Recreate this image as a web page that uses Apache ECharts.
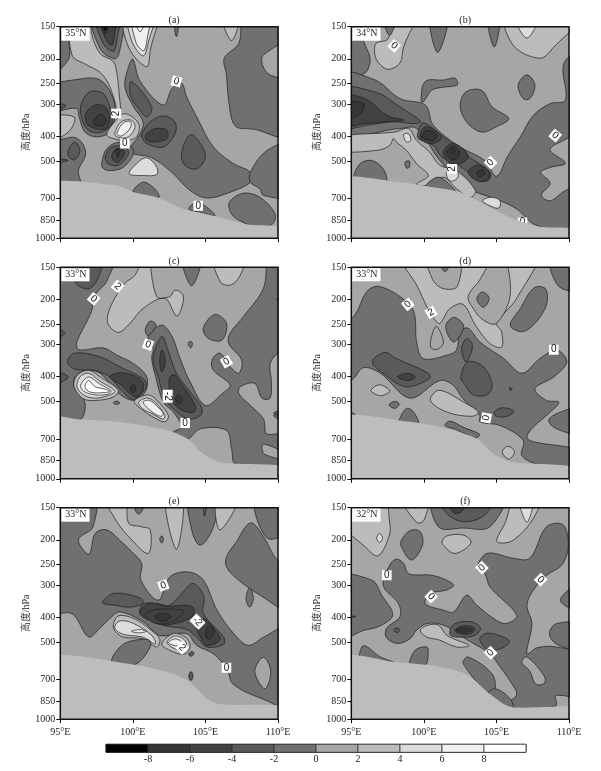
<!DOCTYPE html>
<html><head><meta charset="utf-8"><style>html,body{margin:0;padding:0;background:#fff}#c{width:601px;height:771px}</style>
<script src="https://cdn.jsdelivr.net/npm/echarts@6/dist/echarts.min.js"></script></head><body><div id="c"></div>
<script>
const bandColors={'-10':'#000000','-8':'#363636','-6':'#424242','-4':'#5a5a5a','-2':'#707070','0':'#a6a6a6','2':'#bcbcbc','4':'#dcdcdc','6':'#f0f0f0','8':'#ffffff'};
const terrainColor='#bdbdbd';
const pressureTicks=[150,200,250,300,400,500,700,850,1000];
const colorbarLevels=[-10,-8,-6,-4,-2,0,2,4,6,8,10];
const colorbarTicks=[-8,-6,-4,-2,0,2,4,6,8];
const titles=['(a)','(b)','(c)','(d)','(e)','(f)'];
const latitudes=['35°N','34°N','33°N','33°N','33°N','32°N'];

const regionsA=[
[-2,[[95,150],[95.7,150],[95.6,172],[95.55,202],[95,237]]],
[2,[[95.8,150],[95.8,193],[96.8,211],[97.7,225],[98.3,249],[98.8,299],[98.9,322],[99.15,327],[99.05,273],[98.9,228],[98.65,205],[97.75,191],[97.15,159],[97.05,150]]],
[-2,[[97.15,150],[97.75,183],[98.77,200],[99.1,185],[99.3,150]]],
[-4,[[97.4,150],[97.95,174],[98.65,187],[98.9,169],[99.05,150]]],
[-6,[[97.6,150],[98.1,166],[98.55,177],[98.75,159],[98.85,150]]],
[-8,[[97.75,150],[98.1,160],[98.45,150]]],
[-10,[[97.85,150],[98.1,156],[98.3,150]]],
[2,[[99.4,150],[99.7,180],[100.95,215],[101.2,185],[101.65,150]]],
[4,[[99.7,150],[99.9,169],[100.7,195],[101.05,174],[101.45,150]]],
[6,[[99.95,150],[100.2,172],[100.75,186],[101,165],[101.2,150]]],
[8,[[100.05,150],[100.5,157],[100.95,150]]],
[-2,[[102.8,150],[103,164],[103.2,150]]],
[2,[[106.1,150],[106.8,170],[107.35,150]]],
[-2,[[108.9,150],[109.1,155],[109.3,150]]],
[-2,[[107.75,150],[107.3,174],[106.3,199],[106.45,231],[106.6,290],[107.05,365],[108.3,376],[110,398],[110,150]]],
[0,[[110,172],[109,193],[108.95,213],[109.5,232],[110,235]]],
[-2,[[95,261],[96.35,240],[97.75,242],[98.65,286],[98.75,337],[98.4,386],[97.5,403],[96.7,386],[96.3,337],[96.1,312],[95,322]]],
[-4,[[96.45,299],[97.05,269],[97.95,273],[98.4,308],[98.55,358],[97.85,386],[96.95,380],[96.45,337]]],
[-6,[[96.75,327],[97.4,303],[98.1,308],[98.4,342],[98.2,374],[97.4,374],[96.85,358]]],
[-8,[[97.3,345],[97.85,329],[98.15,347],[97.95,363],[97.4,363]]],
[-4,[[95,296],[95.4,305],[95,322]]],
[2,[[95,342],[95.95,337],[95.55,386],[95,422]]],
[-2,[[95,448],[95.65,405],[96.35,416],[96.75,469],[96.25,545],[96.35,624],[95,624]]],
[-4,[[95.55,455],[96,422],[96.35,455],[96,495],[95.6,483]]],
[-4,[[95,490],[95.55,498],[95,510]]],
[-2,[[100,201],[100.5,245],[102.1,303],[102.7,261],[103.35,249],[103.7,281],[104.4,337],[105.55,441],[106.95,513],[108.1,553],[108.1,605],[106.7,662],[105.1,697],[103.95,652],[102.55,545],[101.2,483],[100.05,469],[99.8,448],[100.5,392],[100.7,352],[100.05,308],[99.45,257],[99.7,215]]],
[-4,[[99.9,245],[101.3,308],[100.95,337],[100.4,312],[99.85,281]]],
[-4,[[100.6,392],[101.2,352],[102.1,334],[102.9,352],[102.9,392],[102.1,441],[100.95,428],[100.6,403]]],
[-6,[[100.9,395],[101.55,374],[102.35,380],[102.35,409],[101.55,422],[100.95,416]]],
[-4,[[103.35,469],[103.95,395],[104.65,428],[105,483],[104.4,537],[103.6,520]]],
[-2,[[97.85,513],[98.2,448],[99.1,422],[99.9,441],[100.05,469],[99.35,529],[98.55,545],[98,537]]],
[-4,[[98.1,483],[98.55,441],[99.45,441],[99.7,469],[99,520],[98.3,513]]],
[-6,[[98.55,476],[98.9,448],[99.45,462],[99,506],[98.65,498]]],
[-8,[[98.85,451],[99.1,455],[98.95,483]]],
[2,[[98.2,395],[98.75,352],[99.45,327],[100.4,358],[100.25,403],[99.55,416],[98.65,409]]],
[4,[[98.75,392],[99.2,352],[99.9,347],[100.15,368],[99.7,403],[99,405]]],
[6,[[98.9,392],[99.35,355],[99.85,352],[99.8,374],[99.2,400]]],
[4,[[99.75,561],[100.25,513],[100.95,486],[101.65,529],[101.65,565],[100.75,570]]],
[-2,[[100,662],[100.7,605],[101.5,642],[101.8,693],[100.7,682]]],
[-2,[[103.85,770],[104.4,725],[105.1,758],[105.65,817],[104.65,793]]],
[-2,[[106.65,725],[107.6,668],[108.75,693],[109.8,805],[109.6,882],[108.55,908],[107.4,856],[106.8,805]]],
[-2,[[108.1,553],[109.25,455],[110,428],[110,682],[109,682],[108.75,642],[108.1,605]]]
];
const terrainA=[[95,619],[98.9,624],[100.05,662],[101.65,693],[103.5,770],[105.55,817],[107.85,882],[110,922],[110,1000],[95,1000]];
const labelsA=[['0',103,245,-15],['2',98.85,327,90],['0',99.45,428,0],['0',104.5,748,0]];

const regionsB=[
[-2,[[95,150],[95.5,150],[95.85,170],[96.3,202],[95.85,229],[95,229]]],
[2,[[99.5,150],[98.6,180],[98.35,208],[97.55,220],[97,211],[96.65,196],[96.7,174],[97.5,168],[98.25,150]]],
[-2,[[97.1,150],[97.65,162],[98.1,150]]],
[-2,[[100.4,150],[100.95,189],[101.7,150]]],
[-2,[[104.35,150],[104.85,180],[105.25,150]]],
[2,[[105.65,150],[106.15,177],[108,199],[108.95,180],[110,150]]],
[4,[[106.2,150],[107.1,166],[107.95,150]]],
[-2,[[95,229],[96.65,242],[98.35,286],[100.1,303],[100.65,363],[102.5,441],[104.2,498],[105,574],[105.8,476],[106.65,403],[107.55,332],[108.7,299],[109.75,290],[109.65,208],[110,188],[110,931],[107.8,893],[106.4,770],[105.25,714],[102.95,633],[101.1,498],[99.5,374],[98.35,374],[95,392]]],
[0,[[110,398],[109.1,430],[108.7,455],[109.75,510],[108.7,530],[108.05,555],[108.7,610],[108.1,680],[108.7,715],[109.6,660],[110,590]]],
[-4,[[95,261],[96.75,271],[98.35,308],[99.75,349],[99.5,358],[97.9,352],[96.05,363],[95,374]]],
[-6,[[95,280],[95.95,286],[97.45,332],[98.6,347],[97.2,352],[95.85,358],[95,367]]],
[-8,[[95,297],[95.85,299],[95.5,332],[95,347]]],
[-4,[[99.6,386],[99.95,355],[101.35,403],[102.95,476],[104.55,553],[104.45,596],[103.75,596],[103.05,553],[102.25,513],[101.25,483],[100.65,435],[99.6,409]]],
[-6,[[99.75,395],[100.1,368],[100.9,385],[101.2,410],[100.5,428],[99.85,415]]],
[-8,[[99.85,401],[100.2,380],[100.9,395],[100.65,416],[99.95,409]]],
[-6,[[101.35,462],[101.9,428],[102.7,448],[103.05,483],[102.5,513],[101.7,506]]],
[-8,[[101.55,462],[102,438],[102.45,462],[102.15,495],[101.7,483]]],
[-8,[[101.8,455],[102,448],[102.15,458],[102,466]]],
[-6,[[103.05,553],[103.65,520],[104.45,545],[104.45,587],[103.75,600]]],
[-8,[[103.65,556],[104,539],[104.2,561],[103.85,575]]],
[-2,[[99.8,290],[100.1,245],[101.35,242],[102.15,238],[102.3,253],[101.35,258],[100.55,265],[99.95,295]]],
[-2,[[102.5,308],[102.9,269],[104,266],[104.7,308],[105.85,342],[105,368],[104,386],[103.05,358]]],
[-2,[[106.5,253],[107.1,231],[107.65,253],[107.3,286],[106.85,286]]],
[2,[[95,406],[98,386],[98.95,374],[99.5,416],[100.4,462],[101.1,520],[102.25,545],[103.55,652],[103.2,693],[102.25,642],[101.35,579],[100.1,624],[99.5,615],[100.3,571],[99.5,513],[98.8,455],[98.1,422],[97.9,409],[97.65,435],[96.75,455],[95,455]]],
[4,[[98.6,395],[98.95,392],[99.1,416],[98.8,422]]],
[4,[[101.6,553],[102.25,545],[102.35,579],[101.9,600],[101.6,579]]],
[-2,[[98.7,506],[99,500],[99,529],[98.8,533]]],
[-2,[[95.2,587],[95.6,513],[96.4,498],[97.2,537],[97.4,604],[96.2,596]]],
[-2,[[100.1,633],[100.9,579],[101.6,605],[102.25,672],[101.1,662]]],
[4,[[104.05,714],[104.65,693],[105.25,714],[105.15,763],[104.55,747]]]
];
const terrainB=[[95,591],[98.35,605],[100.65,633],[102.5,662],[104.1,736],[105.95,830],[108,902],[110,931],[110,1000],[95,1000]];
const labelsB=[['0',97.95,178,-40],['0',109.05,398,-40],['0',104.6,508,45],['2',101.95,537,90]];
const labelsUnderB=[['0',106.8,868,0]];

const regionsC=[
[-2,[[95,150],[98.65,150],[98.2,170],[97.4,192],[97.15,223],[96.35,275],[96.1,302],[96.35,315],[97.95,309],[98.9,330],[100.05,356],[100.95,401],[100.85,459],[100.05,495],[98.9,459],[97.75,388],[96.75,378],[96,401],[96,446],[96.7,503],[96.35,588],[95,579]]],
[-4,[[96,170],[96.95,182],[97.6,165],[97.95,150],[96.25,150]]],
[-4,[[95,252],[95.3,271],[95,291]]],
[-4,[[95,378],[95.55,401],[95,438]]],
[-4,[[95.5,350],[96,324],[97.75,335],[99.1,366],[100.7,407],[100.95,431],[100.7,459],[100.05,491],[99.2,452],[98.4,401],[97.3,378],[96,374]]],
[-6,[[98.4,401],[99.2,386],[100.25,401],[100.75,431],[100.35,480],[99.8,466],[99.15,430]]],
[-8,[[99.8,446],[100.05,431],[100.2,452],[100,462]]],
[-2,[[101.05,279],[102,252],[102.7,279],[103.25,340],[103.95,420],[105,518],[106.15,466],[106.7,431],[105.55,378],[105.45,345],[106,324],[106.7,366],[107.3,388],[107.5,345],[106.6,297],[106.7,271],[107.6,234],[109,181],[109.45,150],[110,150],[110,902],[107.1,877],[106.8,763],[106.45,648],[104.65,639],[103.7,703],[102.8,658],[103.35,629],[102.8,550],[102.1,503],[101.55,396],[101.3,340],[101.4,311]]],
[0,[[110,309],[109.55,345],[109.55,431],[109.45,485],[108.9,485],[108.4,425],[107.4,438],[107.3,466],[108.1,518],[109,585],[109.25,670],[110,629],[109.7,567],[110,535]]],
[0,[[109,732],[110,825],[110,851],[109.05,800]]],
[-4,[[109.7,555],[110,533],[110,574]]],
[-4,[[110,192],[109.9,200],[110,207]]],
[-4,[[101.4,340],[102,279],[102.45,320],[103,388],[103.95,459],[104.75,529],[104.65,567],[103.85,585],[102.9,541],[102.2,488],[101.75,401]]],
[-6,[[101.85,350],[102,315],[102.25,350],[102,383]]],
[-6,[[102.5,407],[102.85,393],[103.25,420],[104.3,518],[104.2,550],[103.4,541],[102.7,495]]],
[-8,[[102.95,488],[103.15,471],[103.4,491],[103.15,511]]],
[-2,[[100.85,263],[101.2,243],[101.6,252],[101.05,277]]],
[-2,[[104.85,259],[105.65,229],[106.45,248],[106.15,288],[105.2,284]]],
[-2,[[103.35,150],[104.05,177],[104.75,150]]],
[2,[[105.55,150],[106,170],[106.7,176],[107.4,161],[107.75,150]]],
[2,[[100.95,150],[101.65,195],[102.55,195],[102.9,184],[103.45,192],[103.35,217],[103,232],[102.2,198],[100.7,217],[99.8,248],[99,269],[98.3,250],[98.3,227],[98.75,198],[99.45,173],[100.15,161]]],
[-2,[[103.85,293],[104.05,293],[104.1,300],[104,309],[103.85,303]]],
[-2,[[98.65,506],[98.9,498],[99.1,506],[98.9,513]]],
[2,[[95.95,438],[96.15,396],[96.95,378],[97.75,401],[99,452],[98.65,480],[97.5,495],[96.6,488]]],
[4,[[96.15,438],[96.35,401],[96.95,388],[97.65,414],[98.75,455],[98.4,471],[97.4,485],[96.6,471]]],
[6,[[96.4,438],[96.6,414],[97,401],[97.65,425],[98.5,455],[98.2,469],[97.4,471],[96.7,459]]],
[8,[[96.7,438],[96.95,414],[97.4,438],[98,446],[98.4,456],[97.95,462],[97.05,459]]],
[2,[[100.1,499],[101.05,471],[101.65,495],[102.45,567],[102.2,600],[101.4,575],[100.7,541]]],
[4,[[100.4,503],[101.05,485],[101.65,511],[102.2,567],[102.05,585],[101.3,556],[100.7,535]]],
[6,[[100.7,503],[101.15,495],[101.65,521],[102.1,556],[101.9,571],[101.3,547]]]
];
const terrainC=[[95,579],[96.35,588],[98.4,596],[100.7,620],[102.8,658],[103.95,709],[104.65,785],[106,863],[110,911],[110,1000],[95,1000]];
const labelsC=[['0',97.3,199,-40],['2',98.95,178,-40],['0',101.05,300,-20],['0',106.45,350,30],['-2',102.4,477,-90],['0',103.6,606,0]];

const regionsD=[
[-2,[[95,267],[95.25,230],[96.05,187],[96.85,178],[98.35,195],[99.3,223],[99.5,293],[99.95,340],[101.6,330],[102.25,315],[102.5,267],[103.05,259],[103.85,293],[105.5,340],[106.75,388],[108,340],[109.15,315],[109.85,350],[108.95,401],[107.65,446],[108.45,495],[109.3,503],[108.6,557],[107.55,629],[107.1,689],[107.55,717],[110,785],[110,911],[108,882],[106.75,812],[106.85,709],[105.25,620],[103.85,600],[103.85,567],[102.7,488],[102,431],[101.1,414],[99.05,485],[97,388],[95.85,369],[95.15,407],[95,459]]],
[-2,[[108.6,590],[109.4,550],[110,526],[110,670],[109.15,639]]],
[-2,[[108.7,150],[110,150],[110,181],[109.3,178]]],
[-2,[[105.95,252],[106.65,217],[107.55,181],[108.35,181],[108.5,204],[108.1,230],[107.3,259],[106.65,267]]],
[2,[[98.45,150],[99.5,176],[101,248],[101.8,217],[102.7,209],[103.55,252],[104.55,297],[105.35,307],[105.35,267],[105,248],[106.4,198],[107.65,150]]],
[0,[[100.2,150],[100.55,165],[101.25,181],[102.3,178],[102.4,150]]],
[-2,[[100.95,150],[101.45,156],[102.05,150]]],
[0,[[103.05,195],[103.85,168],[105,150],[105.5,150],[105.95,192],[105,248],[104.1,241],[103.4,217]]],
[-2,[[103.65,199],[104.05,187],[104.5,198],[104.1,215]]],
[-2,[[101.5,255],[102.05,235],[102.75,255],[102.05,293]]],
[0,[[100.45,293],[100.85,255],[101.35,293],[101,312],[100.55,311]]],
[-4,[[96.45,350],[97.3,322],[98.1,340],[100.3,388],[100.4,407],[98.8,438],[97.4,396]]],
[-6,[[98.2,401],[98.9,388],[99.4,401],[98.9,414]]],
[-4,[[102.6,311],[102.95,284],[103.35,302],[103.05,345],[102.85,350]]],
[-4,[[102.55,401],[103.05,350],[104.1,366],[104.7,431],[104.35,471],[103.4,471],[102.85,431]]],
[-4,[[104.85,549],[105.4,529],[106.2,545],[105.75,571],[105,571]]],
[-4,[[105.9,441],[106.1,446],[105.95,452]]],
[2,[[96.35,452],[96.95,430],[97.65,455],[97.1,474],[96.65,468]]],
[2,[[100.45,495],[101.05,452],[102.75,503],[103.75,550],[103.3,571],[101.6,550]]],
[2,[[105.4,785],[105.8,747],[106.25,785],[105.85,838]]],
[-2,[[97.6,515],[98,499],[98.3,511],[98,532]]],
[-2,[[98.3,590],[98.8,532],[99.3,550],[99.6,612],[98.35,606]]],
[-2,[[101.45,620],[101.8,596],[102.7,629],[103.85,672],[103.5,693],[102.2,642]]],
[-2,[[95,521],[95.45,575],[95,575]]]
];
const terrainD=[[95,581],[99.05,600],[101.6,639],[103.65,698],[104.8,800],[106.2,863],[110,916],[110,1000],[95,1000]];
const labelsD=[['0',98.9,209,40],['2',100.5,225,30],['0',108.95,314,0],['0',104.3,579,80]];

const regionsE=[
[-2,[[95,150],[97.3,150],[97.25,178],[96.3,197],[96.35,210],[97,227],[97.4,189],[98.2,183],[99.1,201],[99.9,222],[100.6,247],[100.55,287],[101.75,344],[102.55,279],[103.85,267],[104.85,287],[105.8,376],[106.95,464],[107.95,516],[109,479],[110,430],[110,895],[108.9,832],[106.9,729],[106.5,640],[105.55,556],[104.4,516],[103.7,464],[101.85,472],[100.7,417],[99.1,382],[98.4,406],[97.75,441],[96.95,478],[95.8,388],[95,382]]],
[2,[[97.95,150],[98.75,165],[99.7,194],[101.05,226],[101.2,183],[100.6,178],[99.7,172],[99.45,150]]],
[-2,[[99.85,150],[100.4,159],[101.05,150]]],
[2,[[102.2,150],[103,218],[103.45,150]]],
[-2,[[103.9,150],[104.05,183],[104.65,210],[105.55,178],[105.8,150]]],
[-4,[[104.8,150],[104.95,162],[105.1,150]]],
[2,[[105.8,150],[106,183],[107.4,150]]],
[-2,[[108.4,150],[109.25,197],[110,178],[110,150]]],
[-2,[[106.45,233],[107.05,207],[108.1,172],[109,194],[109.7,230],[110,287],[110,383],[108.55,323],[107.15,283],[106.45,255]]],
[-2,[[101.85,199],[102,193],[102.1,199],[102,206]]],
[-2,[[107.8,339],[108.05,307],[108.3,339],[108.05,366]]],
[0,[[108.4,651],[109,574],[109.5,651],[109.1,762]]],
[-4,[[100.5,388],[100.7,356],[101.6,354],[102.55,359],[103.45,320],[104.15,296],[104.9,333],[104.85,387],[106.25,479],[106.25,511],[105.1,523],[104.4,479],[103.7,447],[102.35,434],[101.4,417]]],
[-4,[[97.95,345],[98.75,323],[100.5,337],[100.7,354],[99.8,366],[98.65,359],[97.95,354]]],
[-6,[[100.5,388],[101.05,354],[102.35,363],[104.05,363],[104.15,396],[102.35,430],[101.4,417]]],
[-6,[[104.4,434],[104.85,406],[105.55,441],[106,490],[105.1,516],[104.65,479]]],
[-6,[[100.85,392],[101.6,374],[103.5,379],[102.7,417],[101.6,424]]],
[-8,[[101.5,399],[102.1,386],[102.65,398],[102.1,417]]],
[-8,[[105,464],[105.2,435],[105.6,447],[105.45,479],[105.15,486]]],
[2,[[98.65,430],[99,396],[100.05,405],[101.2,447],[101.85,486],[101.65,523],[100.7,486],[99.35,479],[98.8,456]]],
[4,[[98.75,441],[99.1,414],[100.05,424],[101.3,472],[101.55,510],[100.7,479],[99.35,467]]],
[6,[[99.9,454],[100.5,448],[100.95,454],[100.4,461]]],
[2,[[102,510],[102.8,464],[103.6,479],[103.95,516],[103.6,556],[102.8,547]]],
[4,[[102.35,500],[102.9,474],[103.5,488],[103.7,516],[103.35,538],[102.65,523]]],
[6,[[102.45,503],[102.9,486],[103.35,500],[103.15,518],[102.7,513]]],
[-2,[[98.55,600],[99.35,510],[101.05,490],[101.2,523],[100.15,612]]],
[-4,[[103.85,556],[104.1,545],[104.2,556],[104,569]]],
[-4,[[103.85,680],[104,652],[104.15,680],[104,707]]]
];
const terrainE=[[95,579],[100.05,612],[102.8,666],[103.95,718],[105.1,833],[106,875],[110,905],[110,1000],[95,1000]];
const labelsE=[['0',102.1,301,20],['-2',104.45,417,-45],['2',103.4,527,-45],['0',106.45,631,0]];

const regionsF=[
[-2,[[95,280],[96.4,287],[97.1,329],[97.85,393],[96.95,434],[95.85,451],[95,489]]],
[-4,[[95,395],[95.3,398],[95,405]]],
[-2,[[97.2,301],[97.65,251],[98.1,238],[98.6,247],[98.95,271],[100.55,275],[101.55,287],[102.05,301],[101.55,314],[100.45,324],[100.1,355],[101.35,376],[102.05,382],[102.95,329],[103.65,360],[105,412],[105.7,424],[106.4,394],[104.55,305],[104.2,271],[103.65,259],[104.35,226],[106.15,236],[107.3,236],[108.45,178],[109.6,175],[109.95,213],[109.5,251],[108.45,275],[107.55,314],[107.1,360],[107.45,424],[107.1,556],[107.8,527],[109.15,523],[110,572],[110,810],[109.1,810],[109.15,875],[108.95,895],[106.15,903],[105.25,843],[106,843],[106.4,798],[106.15,740],[105.25,625],[104.55,556],[103.2,499],[102.5,472],[101.35,430],[100.2,424],[99.5,450],[99.05,486],[98.15,507],[97.4,479],[97.45,441],[98.35,399],[98.25,355]]],
[0,[[106.75,600],[107.1,572],[108.3,680],[108.3,725],[107.7,730],[107.3,650]]],
[-2,[[110,292],[109.4,344],[110,381]]],
[-2,[[98.45,201],[99.05,184],[99.75,186],[99.9,210],[99.15,240],[98.45,213]]],
[-2,[[100.65,150],[101,178],[102.7,180],[104.55,178],[105.55,150]]],
[-4,[[101,150],[101.45,155],[102.7,170],[104.2,160],[104.9,150]]],
[-6,[[101.55,150],[102.05,157],[102.7,153],[102.85,150]]],
[2,[[95,150],[95,165],[95.95,213],[96.85,231],[97.6,194],[97.65,172],[97.1,150]]],
[4,[[96.75,197],[96.95,189],[97.15,197],[96.95,205]]],
[2,[[98.3,150],[99.5,171],[100,168],[100.3,150]]],
[2,[[101.25,204],[101.6,193],[102.75,192],[103.25,204],[102.75,219],[102.05,226],[101.45,213]]],
[2,[[105,201],[105.6,172],[106.4,150],[108.1,150],[107.55,165],[106.15,201],[105.25,206]]],
[4,[[106.5,150],[107.1,171],[107.55,150]]],
[-4,[[101.8,450],[102.15,424],[103.2,417],[103.9,441],[103.5,472],[102.45,479],[101.85,472]]],
[-6,[[102.15,450],[102.7,433],[103.5,441],[103.25,464],[102.45,464]]],
[-8,[[102.25,450],[102.85,441],[103.35,450],[102.7,459]]],
[-4,[[103.85,486],[104.35,462],[105.5,479],[105.9,500],[105.25,532],[104.35,532]]],
[-4,[[97.9,450],[98.15,441],[98.35,450],[98.15,459]]],
[2,[[99.75,450],[100.3,430],[101,430],[101.6,472],[103.1,516],[102.25,523],[101,490],[100.2,479]]],
[-2,[[95.5,572],[95.85,517],[97,572],[97.9,600],[95.5,582]]],
[-2,[[99.05,612],[99.4,539],[100.2,523],[100.3,556],[100.1,615]]],
[-2,[[108.65,464],[109.15,424],[110,430],[110,538],[109.15,510]]],
[-2,[[102.7,600],[103.05,572],[104.7,666],[104.9,778],[104.45,790],[103.65,718],[102.85,625]]],
[-2,[[104.45,790],[105,762],[105.95,833],[106.15,905],[105.5,875]]]
];
const terrainF=[[95,572],[98.15,600],[100.65,619],[102.7,659],[103.4,697],[104.55,798],[105.95,895],[108.95,895],[110,903],[110,1000],[95,1000]];
const labelsF=[['0',97.45,275,0],['0',100.5,333,-45],['0',104,257,45],['0',108.05,286,-45],['0',104.6,551,45]];

const allRegions=[regionsA,regionsB,regionsC,regionsD,regionsE,regionsF];
const allTerrain=[terrainA,terrainB,terrainC,terrainD,terrainE,terrainF];
const allLabels=[labelsA,labelsB,labelsC,labelsD,labelsE,labelsF];
const allLabelsUnder=[[],labelsUnderB,[],[],[],[]];
const frameCorners=[[95,150],[110,1000]];
const lefts=[60.3,351.3,60.3,351.3,60.3,351.3];
const tops=[26.7,26.7,267.3,267.3,507.7,507.7];
const W=217.7,H=211.5,SERIF='Liberation Serif';

function polyPoints(pts,api){
  return pts.map(q=>{
    const c=api.coord(q);
    if(q[0]<=95)c[0]-=15; if(q[0]>=110)c[0]+=15;
    if(q[1]<=150)c[1]-=15; if(q[1]>=1000)c[1]+=15;
    return c;
  });
}
function labelSeries(i,labs,z){
  return {type:'custom',xAxisIndex:i,yAxisIndex:i,clip:true,z,silent:true,
    encode:{x:0,y:1},data:labs.map(l=>[l[1],l[2]]),
    renderItem:(p,api)=>{const l=labs[p.dataIndex],c=api.coord([l[1],l[2]]);
      return {type:'text',x:c[0],y:c[1],rotation:l[3]*Math.PI/180,
        style:{text:l[0],fill:'#111',font:'10px "Liberation Sans"',align:'center',verticalAlign:'middle',backgroundColor:'#fff',padding:[0,2]}};}};
}
const grid=[],xAxis=[],yAxis=[],series=[],title=[];
titles.forEach((t,i)=>{
  grid.push({left:lefts[i],top:tops[i],width:W,height:H,show:true,backgroundColor:bandColors['0'],borderWidth:0,z:1});
  xAxis.push({gridIndex:i,type:'value',min:95,max:110,interval:5,
    axisLine:{show:false},
    axisTick:{show:true,inside:false,length:4,lineStyle:{color:'#111'}},splitLine:{show:false},
    axisLabel:{show:i>=4,margin:8,formatter:v=>v+'°E',fontFamily:SERIF,fontSize:10,color:'#222',hideOverlap:false}});
  yAxis.push({gridIndex:i,type:'log',logBase:10,min:150,max:1000,inverse:true,
    name:'高度/hPa',nameLocation:'middle',nameGap:25,nameTextStyle:{fontFamily:SERIF,fontSize:10,color:'#222'},
    axisLine:{show:false},
    axisTick:{show:true,length:4,customValues:pressureTicks,lineStyle:{color:'#111'}},minorTick:{show:false},splitLine:{show:false},
    axisLabel:{margin:5,customValues:pressureTicks,formatter:v=>String(Math.round(v)),fontFamily:SERIF,fontSize:10,color:'#222'}});
  const regs=allRegions[i],ter=allTerrain[i];
  series.push({type:'custom',xAxisIndex:i,yAxisIndex:i,clip:true,z:2,silent:true,
    encode:{x:0,y:1},data:regs.map(r=>r[1][0]),
    renderItem:(p,api)=>{const r=regs[p.dataIndex];
      return {type:'polygon',shape:{points:polyPoints(r[1],api),smooth:0.35},
        style:{fill:bandColors[r[0]],stroke:'#1c1c1c',lineWidth:0.7}};}});
  series.push(labelSeries(i,allLabelsUnder[i],3));
  series.push({type:'custom',xAxisIndex:i,yAxisIndex:i,clip:true,z:4,silent:true,
    encode:{x:0,y:1},data:[ter[0]],
    renderItem:(p,api)=>({type:'polygon',shape:{points:polyPoints(ter,api),smooth:0.25},style:{fill:terrainColor,stroke:null}})});
  series.push(labelSeries(i,allLabels[i],5));
  series.push({type:'custom',xAxisIndex:i,yAxisIndex:i,clip:false,z:6,silent:true,
    encode:{x:0,y:1},data:[frameCorners[0]],
    renderItem:(p,api)=>{const a=api.coord(frameCorners[0]),b=api.coord(frameCorners[1]);
      return {type:'rect',shape:{x:a[0],y:a[1],width:b[0]-a[0],height:b[1]-a[1]},style:{fill:null,stroke:'#111',lineWidth:1.5}};}});
  title.push({text:t,left:lefts[i]+W/2,top:tops[i]-16,textAlign:'center',textStyle:{fontFamily:SERIF,fontSize:10,fontWeight:'normal',color:'#222'}});
  title.push({text:latitudes[i],left:lefts[i]+1,top:tops[i]+1,padding:[1,3,2,4],backgroundColor:'#fff',z:10,textStyle:{fontFamily:SERIF,fontSize:10,fontWeight:'normal',color:'#222'}});
});
// colour bar
grid.push({left:106,top:744.3,width:420,height:8,show:true,borderColor:'#222',borderWidth:1});
xAxis.push({gridIndex:6,type:'value',min:-10,max:10,interval:2,axisLine:{show:false},axisTick:{show:false},splitLine:{show:false},
  axisLabel:{margin:2,customValues:colorbarTicks,fontFamily:SERIF,fontSize:10,color:'#222'}});
yAxis.push({gridIndex:6,type:'value',min:0,max:1,show:false});
series.push({type:'custom',xAxisIndex:6,yAxisIndex:6,z:5,silent:true,encode:{x:[0,1]},
  data:colorbarLevels.slice(0,-1).map((l,k)=>[l,colorbarLevels[k+1]]),
  renderItem:(p,api)=>{const a=api.coord([api.value(0),1]),b=api.coord([api.value(1),0]);
    return {type:'rect',shape:{x:a[0],y:a[1],width:b[0]-a[0],height:b[1]-a[1]},
      style:{fill:bandColors[api.value(0)],stroke:'#2a2a2a',lineWidth:0.7}};}});
const chart=echarts.init(document.getElementById('c'),null,{renderer:'canvas'});
chart.setOption({animation:false,backgroundColor:'#fff',title,grid,xAxis,yAxis,series});
</script></body></html>
